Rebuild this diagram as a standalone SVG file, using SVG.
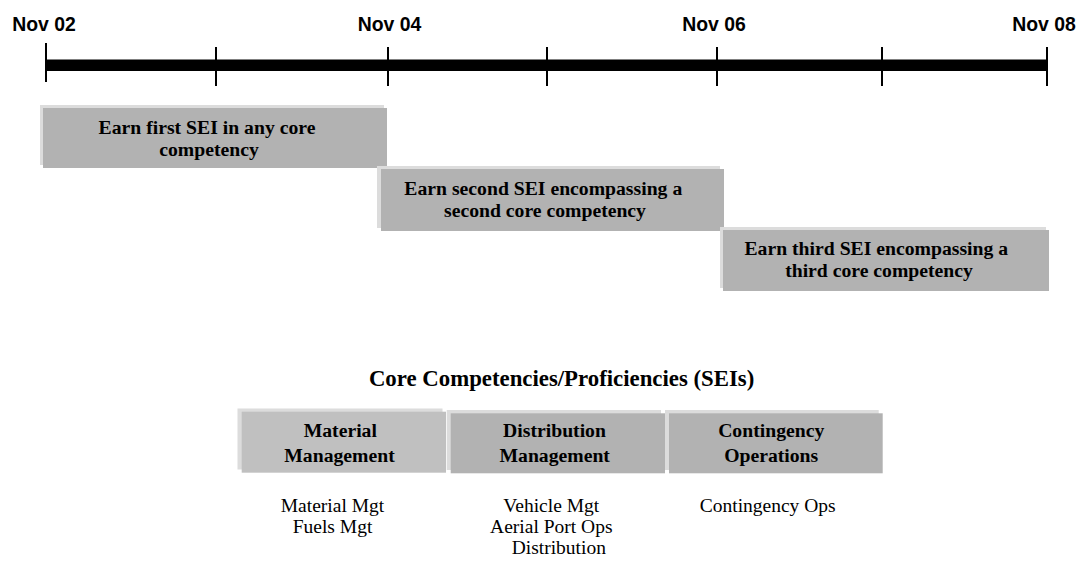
<svg xmlns="http://www.w3.org/2000/svg" width="1084" height="563" viewBox="0 0 1084 563">
<style>
.date{font-family:"Liberation Sans",Arial,sans-serif;font-weight:bold;font-size:19.4px;fill:#000;text-anchor:middle}
.tick{stroke:#000;stroke-width:2}
.shadow{fill:#dcdcdc}
.box{fill:#b2b2b2}
.boxlight{fill:#c0c0c0}
.bt{font-family:"Liberation Serif","Times New Roman",serif;font-weight:bold;font-size:19.7px;fill:#000;text-anchor:middle}
.title{font-family:"Liberation Serif","Times New Roman",serif;font-weight:bold;font-size:22.8px;fill:#000;text-anchor:middle}
.item{font-family:"Liberation Serif","Times New Roman",serif;font-size:19.5px;fill:#000;text-anchor:middle}
</style>
<rect width="1084" height="563" fill="#fff"/>
<g id="timeline">
  <rect x="46" y="59.5" width="1001" height="11.5" fill="#000"/>
  <line class="tick" x1="46" y1="43" x2="46" y2="82"/>
  <line class="tick" x1="216" y1="47" x2="216" y2="86"/>
  <line class="tick" x1="388" y1="47" x2="388" y2="86"/>
  <line class="tick" x1="547" y1="47" x2="547" y2="86"/>
  <line class="tick" x1="717" y1="47" x2="717" y2="86"/>
  <line class="tick" x1="882" y1="47" x2="882" y2="86"/>
  <line class="tick" x1="1047" y1="47" x2="1047" y2="86"/>
  <text class="date" x="44" y="31">Nov 02</text>
  <text class="date" x="389.5" y="31">Nov 04</text>
  <text class="date" x="714" y="31">Nov 06</text>
  <text class="date" x="1044" y="31">Nov 08</text>
</g>
<g id="connectors"></g>
<g id="step1">
  <rect class="shadow" x="40" y="105" width="344" height="60"/>
  <rect class="box" x="43" y="108" width="344" height="60"/>
  <text class="bt" x="207" y="134.3">Earn first SEI in any core</text>
  <text class="bt" x="209" y="155.7">competency</text>
</g>
<g id="step2">
  <rect class="shadow" x="377" y="166" width="343" height="62"/>
  <rect class="box" x="381" y="169" width="343" height="62"/>
  <text class="bt" x="543.3" y="195">Earn second SEI encompassing a</text>
  <text class="bt" x="545" y="216.7">second core competency</text>
</g>
<g id="step3">
  <rect class="shadow" x="720" y="227" width="326" height="61"/>
  <rect class="box" x="723" y="230" width="326" height="61"/>
  <text class="bt" x="876.3" y="255">Earn third SEI encompassing a</text>
  <text class="bt" x="879" y="276.7">third core competency</text>
</g>
<g id="title">
  <text class="title" x="561.6" y="386">Core Competencies/Proficiencies (SEIs)</text>
</g>
<g id="material">
  <rect class="shadow" x="237.5" y="408.5" width="205" height="61"/>
  <rect class="boxlight" x="241.7" y="411.7" width="204.3" height="61"/>
  <text class="bt" x="340.3" y="437">Material</text>
  <text class="bt" x="339.5" y="462">Management</text>
  <text class="item" x="332.5" y="511.7">Material Mgt</text>
  <text class="item" x="332.5" y="533.3">Fuels Mgt</text>
</g>
<g id="distribution">
  <rect class="shadow" x="446.7" y="410" width="214.3" height="60"/>
  <rect class="box" x="450.7" y="413.3" width="214.3" height="60"/>
  <text class="bt" x="554.5" y="437.3">Distribution</text>
  <text class="bt" x="554.7" y="462.3">Management</text>
  <text class="item" x="551.3" y="511.7">Vehicle Mgt</text>
  <text class="item" x="551.3" y="533.3">Aerial Port Ops</text>
  <text class="item" x="558.8" y="554.3">Distribution</text>
</g>
<g id="contingency">
  <rect class="shadow" x="665" y="410" width="213.7" height="60"/>
  <rect class="box" x="669" y="413.3" width="213.7" height="60"/>
  <text class="bt" x="771.2" y="437.3">Contingency</text>
  <text class="bt" x="771.2" y="462.3">Operations</text>
  <text class="item" x="767.7" y="511.7">Contingency Ops</text>
</g>
</svg>
